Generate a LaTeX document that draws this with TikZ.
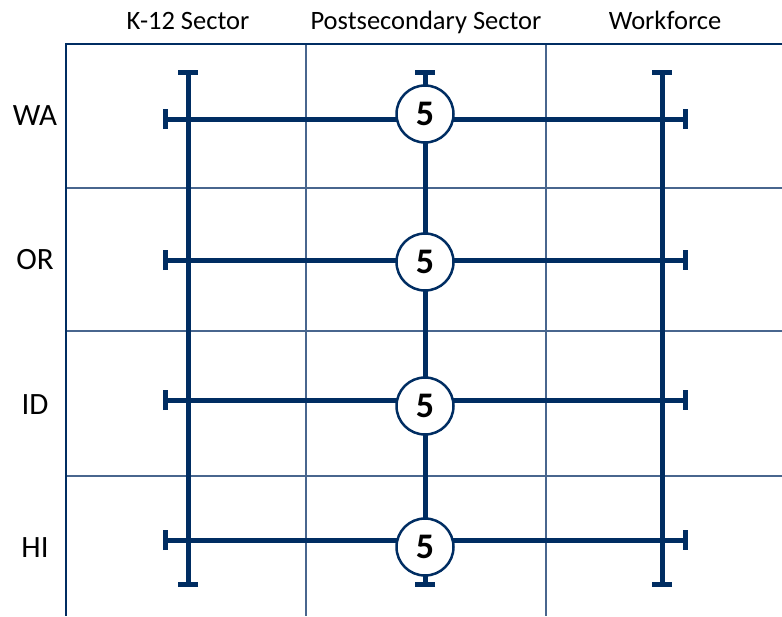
\documentclass[tikz,border=0pt]{standalone}
\usepackage{fontspec}
\setmainfont{Carlito}
\usetikzlibrary{arrows.meta,positioning}
\definecolor{navy}{RGB}{0,45,98}
\definecolor{gridblue}{RGB}{72,102,142}
\tikzset{
    cellline/.style={draw=gridblue,line width=1.5pt},
    frameline/.style={draw=navy,line width=2.8pt},
    tbar/.style={draw=navy,line width=5pt,{Bar[width=20pt]}-{Bar[width=20pt]}},
    score/.style={circle,draw=navy,line width=2.5pt,fill=white,minimum size=57pt,
        inner sep=0pt,font=\fontsize{36}{40}\selectfont\bfseries},
    head/.style={anchor=base,font=\fontsize{26.5}{30}\selectfont},
    rowlab/.style={anchor=base,font=\fontsize{31}{34}\selectfont}
}

\begin{document}
\begin{tikzpicture}[x=1pt,y=-1pt]
    \useasboundingbox (0,0) rectangle (782,616);
    % table
    \foreach \y in {188,331,476}
        \draw[cellline] (66,\y) -- (782,\y);
    \foreach \x in {306,546}
        \draw[cellline] (\x,44) -- (\x,616);
    \draw[frameline] (782,44) -- (66,44) -- (66,616);
    % headers and rows
    \node[head] (k12) at (188,29) {K-12 Sector};
    \node[head] (post) at (426,29) {Postsecondary Sector};
    \node[head] (work) at (665,29) {Workforce};
    \foreach \y/\s in {125/WA,269/OR,414/ID,557/HI}
        \node[rowlab] (\s) at (35,\y) {\s};
    % bar ends
    \foreach \x/\n in {188/k,425/p,662/w} {
        \coordinate (\n top) at (\x,70);
        \coordinate (\n bot) at (\x,587);
    }
    \foreach \y/\n in {119/wa,260/or,400/id,540/hi} {
        \coordinate (\n left) at (163,\y);
        \coordinate (\n right) at (688,\y);
    }
    \foreach \n in {k,p,w}
        \draw[tbar] (\n top) -- (\n bot);
    \foreach \n in {wa,or,id,hi}
        \draw[tbar] (\n left) -- (\n right);
    % scores
    \foreach \y/\n in {114/wa,262/or,406/id,547/hi}
        \node[score] (\n score) at (425,\y) {5};
\end{tikzpicture}
\end{document}
